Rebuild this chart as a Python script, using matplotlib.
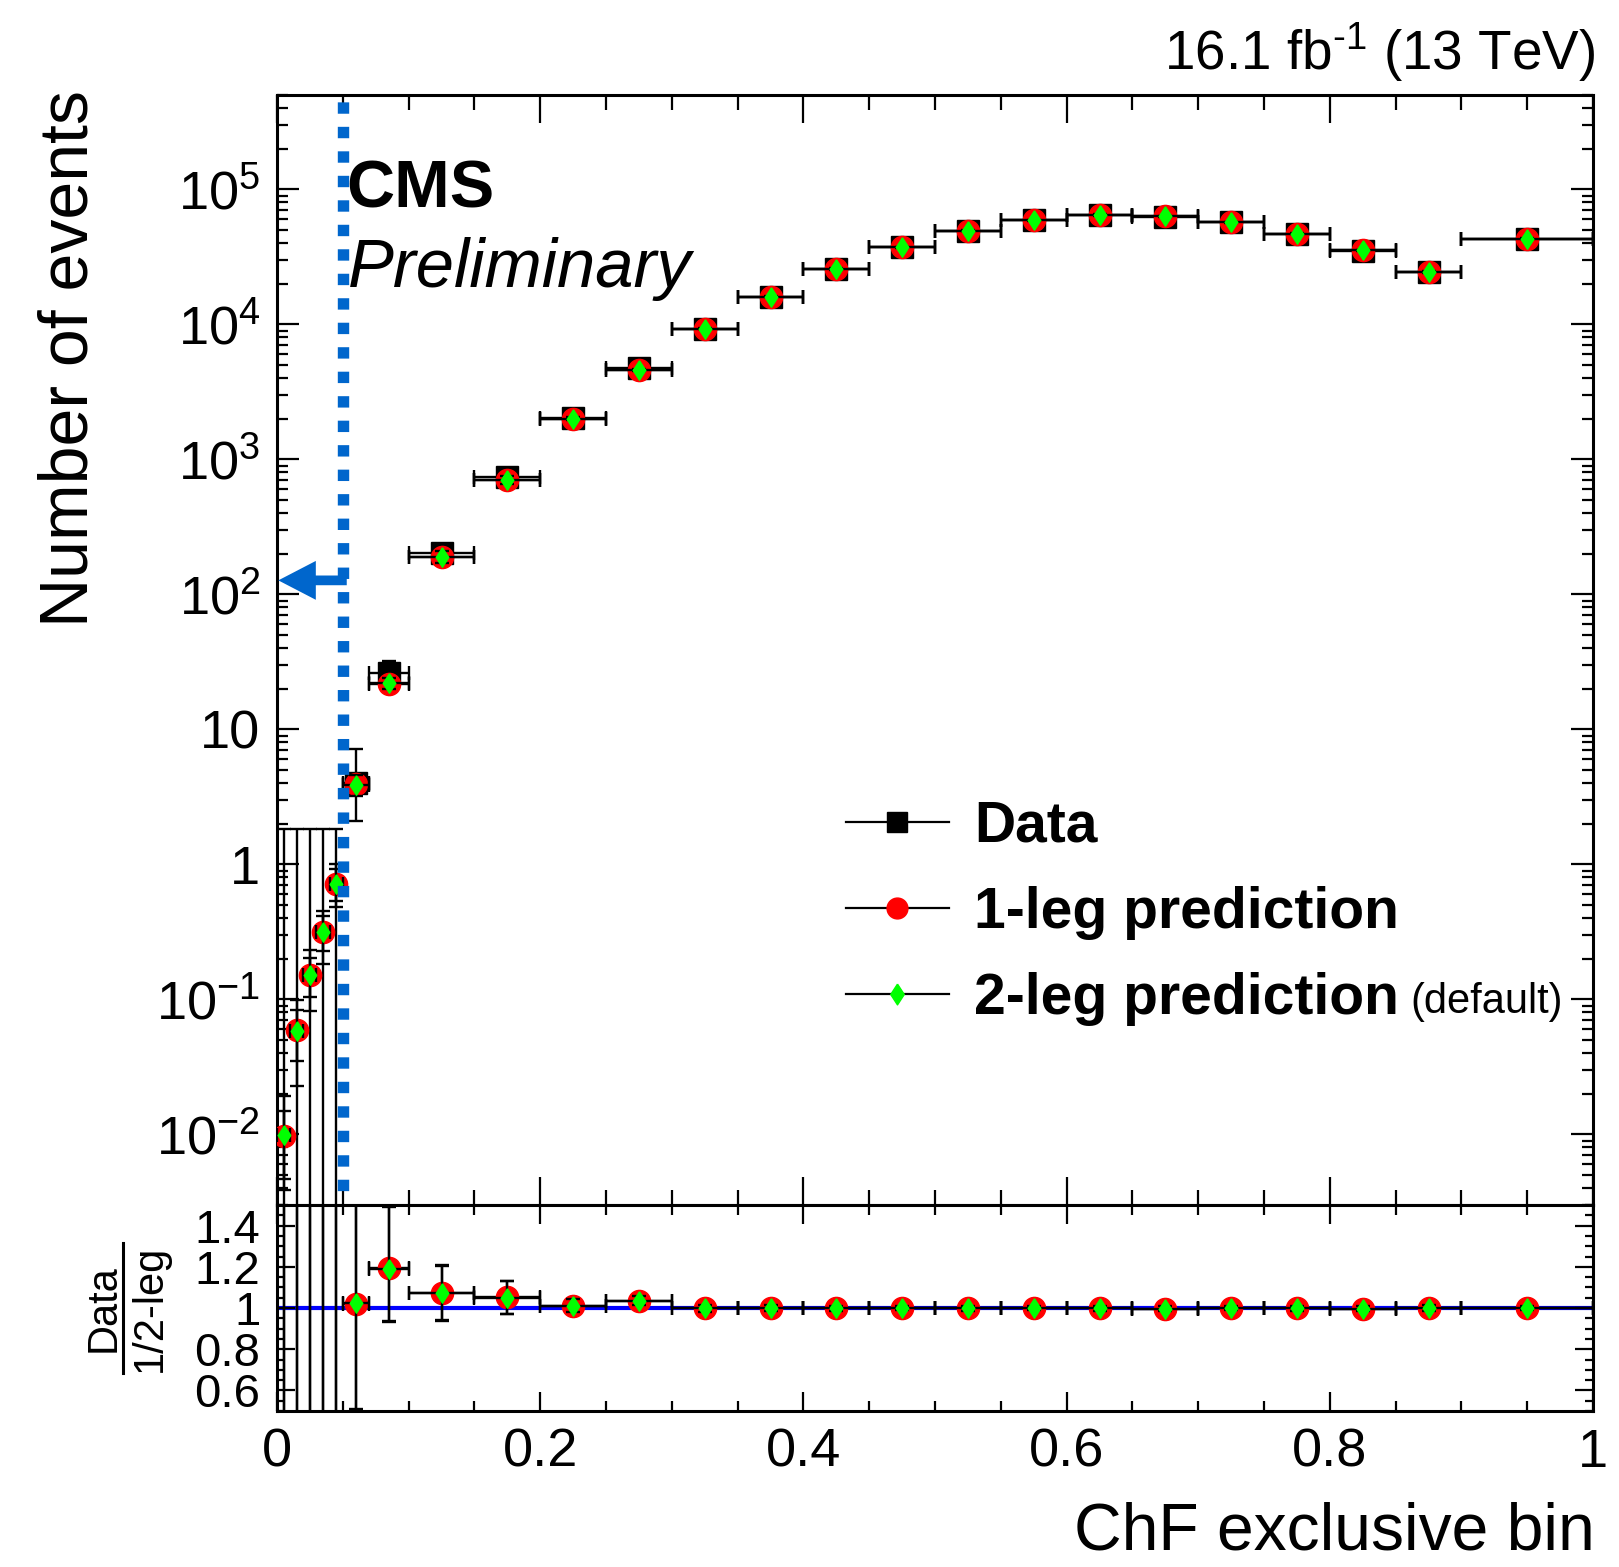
#!/usr/bin/env python3

import numpy as np
import matplotlib
matplotlib.use('Agg')
import matplotlib.pyplot as plt
from matplotlib.lines import Line2D
from matplotlib.ticker import FixedLocator, FixedFormatter, MultipleLocator, LogLocator, NullFormatter

plt.rcParams['font.family'] = ['Liberation Sans', 'DejaVu Sans']
plt.rcParams['mathtext.fontset'] = 'custom'
plt.rcParams['mathtext.rm'] = 'Liberation Sans'
plt.rcParams['mathtext.it'] = 'Liberation Sans:italic'
plt.rcParams['mathtext.bf'] = 'Liberation Sans:bold'

#_____________________________________________________________________________
# ChF exclusive bins
bin_edges = [0.0, 0.01, 0.02, 0.03, 0.04, 0.05, 0.07, 0.10, 0.15, 0.20, 0.25, 0.30,
             0.35, 0.40, 0.45, 0.50, 0.55, 0.60, 0.65, 0.70, 0.75, 0.80, 0.85, 0.90, 1.00]

data = [0, 0, 0, 0, 0, 4, 26, 204, 741, 2022, 4760, 9281, 16000, 25680, 37300,
        49400, 58950, 64370, 62810, 57000, 46950, 35190, 24400, 43000]
data_err_lo_small = [0, 0, 0, 0, 0, 1.91, 5.06]
data_err_hi_small = [1.84, 1.84, 1.84, 1.84, 1.84, 3.16, 6.16]

pred_1leg = [0.0098, 0.059, 0.151, 0.316, 0.71, 3.92, 21.8, 190, 705, 2000, 4600,
             9300, 16000, 25700, 37300, 49500, 59000, 64500, 63000, 57000, 47000,
             35300, 24400, 43000]
pred_1leg_err_lo = [0.0051, 0.024, 0.046, 0.086, 0.17, 0.6, 1.9, 19, 46, 40, 70, 90,
                    150, 230, 330, 450, 530, 580, 570, 510, 420, 320, 220, 390]
pred_1leg_err_hi = [0.0052, 0.024, 0.050, 0.100, 0.21, 0.6, 1.9, 19, 46, 40, 70, 90,
                    150, 230, 330, 450, 530, 580, 570, 510, 420, 320, 220, 390]

pred_2leg = [0.0099, 0.058, 0.152, 0.318, 0.72, 3.90, 21.9, 190, 706, 2001, 4601,
             9302, 16001, 25702, 37302, 49502, 59003, 64502, 63003, 57002, 47002,
             35302, 24401, 43002]
pred_2leg_err_lo = [0.0060, 0.035, 0.070, 0.136, 0.24, 0.7, 2.0, 20, 48, 42, 72, 110,
                    180, 270, 390, 520, 610, 660, 650, 590, 480, 370, 260, 450]
pred_2leg_err_hi = [0.0092, 0.041, 0.080, 0.134, 0.29, 0.7, 2.0, 20, 48, 42, 72, 110,
                    180, 270, 390, 520, 610, 660, 650, 590, 480, 370, 260, 450]

chf_cut = 0.05
arrow_level = 127

lumi_text = '16.1 fb$^{\\mathregular{\u20101}}$ (13 TeV)'

#_____________________________________________________________________________
W, H = 1619, 1567
BLUE = '#0066cc'

def style_axis(ax, xmaj, xmin_len, ymaj, ymin_len):
    for s in ax.spines.values():
        s.set_linewidth(2.2)
    ax.tick_params(which='both', direction='in', top=True, right=True, width=1.6)
    ax.tick_params(axis='x', which='major', length=xmaj)
    ax.tick_params(axis='x', which='minor', length=xmin_len)
    ax.tick_params(axis='y', which='major', length=ymaj)
    ax.tick_params(axis='y', which='minor', length=ymin_len)

#_____________________________________________________________________________
def ratio_errors(d, d_lo, d_hi, p, p_lo, p_hi):
    '''
    data/prediction with errors propagated from both
    '''
    r = d / p
    with np.errstate(divide='ignore', invalid='ignore'):
        rel_lo = np.sqrt((d_lo / d) ** 2 + (p_lo / p) ** 2)
        rel_hi = np.sqrt((d_hi / d) ** 2 + (p_hi / p) ** 2)
    lo = np.where(d > 0, r * rel_lo, 0.0)
    hi = np.where(d > 0, r * rel_hi, d_hi / p)
    return r, lo, hi

#_____________________________________________________________________________
def main():
    edges = np.array(bin_edges)
    x = 0.5 * (edges[1:] + edges[:-1])
    xerr = 0.5 * (edges[1:] - edges[:-1])

    d = np.array(data, dtype=float)
    d_lo = np.sqrt(d)
    d_hi = np.sqrt(d)
    d_lo[:7] = data_err_lo_small
    d_hi[:7] = data_err_hi_small

    p1 = np.array(pred_1leg)
    p2 = np.array(pred_2leg)

    fig = plt.figure(figsize=(W / 100, H / 100), dpi=100)
    left, right = 277, 1593
    top, mid, bottom = 95, 1205, 1411
    ax = fig.add_axes([left / W, 1 - mid / H, (right - left) / W, (mid - top) / H])
    rax = fig.add_axes([left / W, 1 - bottom / H, (right - left) / W, (bottom - mid) / H],
                       sharex=ax)

    ebkw = dict(linestyle='none', elinewidth=1.7, capsize=5, capthick=1.7, ecolor='black')

    # main panel
    ax.errorbar(x, d, xerr=xerr, yerr=[d_lo, d_hi], marker='s', ms=16, mfc='black',
                mec='black', zorder=3, **ebkw)
    ax.errorbar(x, p1, xerr=xerr, yerr=[pred_1leg_err_lo, pred_1leg_err_hi], marker='o',
                ms=16, mfc='red', mec='red', zorder=4, **ebkw)
    diamond = [(0, 1), (0.65, 0), (0, -1), (-0.65, 0), (0, 1)]
    ax.errorbar(x, p2, xerr=xerr, yerr=[pred_2leg_err_lo, pred_2leg_err_hi],
                marker=diamond, ms=14, mfc='#00ff00', mec='#00ff00', zorder=5, **ebkw)

    ax.set_yscale('log')
    ax.set_xlim(0, 1)
    ax.set_ylim(3.0e-3, 5.0e5)

    yt = [1e-2, 1e-1, 1, 10, 1e2, 1e3, 1e4, 1e5]
    ylabels = [r'$10^{-2}$', r'$10^{-1}$', '1', '10', r'$10^{2}$', r'$10^{3}$',
               r'$10^{4}$', r'$10^{5}$']
    ax.yaxis.set_major_locator(FixedLocator(yt))
    ax.yaxis.set_major_formatter(FixedFormatter(ylabels))
    ax.yaxis.set_minor_locator(LogLocator(base=10, subs=np.arange(2, 10), numticks=20))
    ax.yaxis.set_minor_formatter(NullFormatter())
    ax.xaxis.set_major_locator(MultipleLocator(0.2))
    ax.xaxis.set_minor_locator(MultipleLocator(0.05))
    style_axis(ax, 20, 11, 16, 8)
    ax.tick_params(axis='y', labelsize=39, pad=12)
    ax.tick_params(axis='x', labelbottom=False)

    # cut line through both panels, arrow to the left
    ax.axvline(chf_cut, ymin=-(bottom - mid) / (mid - top), ymax=1, color=BLUE, lw=8.2,
               dashes=(1.0, 1.15), solid_capstyle='butt', dash_capstyle='butt',
               clip_on=False, zorder=6)
    ax.annotate('', xy=(0.001, arrow_level), xytext=(chf_cut + 0.003, arrow_level),
                arrowprops=dict(arrowstyle='simple,head_length=2.7,head_width=2.8,tail_width=0.7',
                                mutation_scale=10, color=BLUE, lw=0, shrinkA=0, shrinkB=0),
                zorder=6)

    # ratio panel
    r1, r1_lo, r1_hi = ratio_errors(d, d_lo, d_hi, p1, np.array(pred_1leg_err_lo),
                                    np.array(pred_1leg_err_hi))
    r2, r2_lo, r2_hi = ratio_errors(d, d_lo, d_hi, p2, np.array(pred_2leg_err_lo),
                                    np.array(pred_2leg_err_hi))
    rax.axhline(1.0, color='#0000ff', lw=3, zorder=1)
    rax.errorbar(x, r1, xerr=xerr, yerr=[r1_lo, r1_hi], marker='o', ms=16,
                 mfc='red', mec='red', zorder=4, **ebkw)
    rax.errorbar(x, r2, xerr=xerr, yerr=[r2_lo, r2_hi], marker=diamond, ms=14,
                 mfc='#00ff00', mec='#00ff00', zorder=5, **ebkw)
    rax.set_ylim(0.5, 1.5)
    rax.set_xlim(0, 1)
    rax.yaxis.set_major_locator(FixedLocator([0.6, 0.8, 1.0, 1.2, 1.4]))
    rax.yaxis.set_major_formatter(FixedFormatter(['0.6', '0.8', '1', '1.2', '1.4']))
    rax.yaxis.set_minor_locator(MultipleLocator(0.05))
    rax.xaxis.set_major_locator(FixedLocator([0, 0.2, 0.4, 0.6, 0.8, 1.0]))
    rax.xaxis.set_major_formatter(FixedFormatter(['0', '0.2', '0.4', '0.6', '0.8', '1']))
    rax.xaxis.set_minor_locator(MultipleLocator(0.05))
    style_axis(rax, 14, 7, 13, 6)
    rax.tick_params(axis='y', labelsize=34, pad=12)
    rax.tick_params(axis='x', labelsize=39, pad=12)

    # labels
    fig.text(70 / W, 1 - 90 / H, 'Number of events', rotation=90, ha='center', va='top',
             fontsize=49)
    fig.text(1595 / W, 1 - 1549 / H, 'ChF exclusive bin', ha='right', va='baseline',
             fontsize=47.5)
    fig.text(104 / W, 1 - 1308 / H, 'Data', rotation=90, ha='center', va='center',
             fontsize=30)
    fig.text(150 / W, 1 - 1308 / H, '1/2-leg', rotation=90, ha='center', va='center',
             fontsize=30)
    fig.add_artist(Line2D([123 / W, 123 / W], [1 - 1243 / H, 1 - 1373 / H], color='black',
                          lw=2.2, transform=fig.transFigure))

    fig.text(1595 / W, 1 - 70 / H, lumi_text, ha='right', va='baseline', fontsize=39.5)
    fig.text(346 / W, 1 - 208 / H, 'CMS', ha='left', va='baseline', fontsize=48,
             fontweight='bold')
    fig.text(348 / W, 1 - 287 / H, 'Preliminary', ha='left', va='baseline', fontsize=49.5,
             style='italic')

    # legend
    handles = [
        Line2D([], [], color='black', lw=1.6, marker='s', ms=15, mfc='black', mec='black'),
        Line2D([], [], color='black', lw=1.6, marker='o', ms=15, mfc='red', mec='red'),
        Line2D([], [], color='black', lw=1.6, marker=diamond, ms=15, mfc='#00ff00',
               mec='#00ff00'),
    ]
    leg = ax.legend(handles, ['Data', '1-leg prediction', '2-leg prediction'],
                    loc='upper left', bbox_to_anchor=(846 / W, 1 - 800 / H),
                    bbox_transform=fig.transFigure, frameon=False, borderpad=0,
                    borderaxespad=0, handlelength=1.8, handletextpad=0.45,
                    labelspacing=0.56, prop={'weight': 'bold', 'size': 41})
    fig.canvas.draw()
    ax.annotate('(default)', xy=(1, 0), xycoords=leg.get_texts()[2],
                xytext=(8, 2.5), textcoords='offset points', ha='left', va='bottom',
                fontsize=30)

    fig.savefig('out.png', dpi=100)

#_____________________________________________________________________________
if __name__ == "__main__":
    main()
